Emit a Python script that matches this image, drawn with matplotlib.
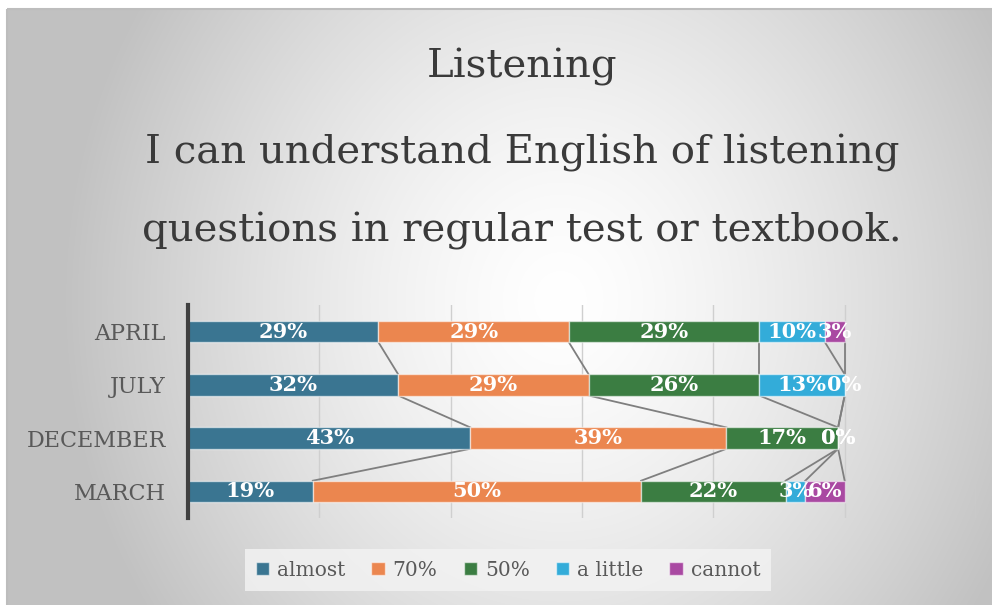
import numpy as np
import matplotlib.pyplot as plt
from matplotlib.patches import Rectangle

months = ['APRIL', 'JULY', 'DECEMBER', 'MARCH']
series = ['almost', '70%', '50%', 'a little', 'cannot']
almost = [29, 32, 43, 19]
seventy = [29, 29, 39, 50]
fifty = [29, 26, 17, 22]
a_little = [10, 13, 0, 3]
cannot = [3, 0, 0, 6]
colors = ['#3a7591', '#eb864f', '#3b7d42', '#33acd9', '#a949a2']

plt.rcParams['font.family'] = ['DejaVu Serif']

fig = plt.figure(figsize=(9.92, 6.05), dpi=100)

# radial grey background
bg = fig.add_axes([0, 0, 1, 1], zorder=-10)
h, w = 605, 992
yy, xx = np.mgrid[0:h, 0:w]
r = np.sqrt(((xx - 560) / 500.0) ** 2 + ((yy - 300) / 560.0) ** 2)
shade = 255 - 62 * np.clip(r, 0, 1) ** 1.4
img = np.dstack([shade, shade, shade]) / 255.0
img[:9, :] = 1.0
img[:, :7] = 1.0
bg.imshow(img, aspect='auto', extent=[0, w, h, 0])
bg.add_patch(Rectangle((7, 9), w, h, fill=False, edgecolor='#bdbdbd', lw=1.5))
bg.set_xlim(0, w)
bg.set_ylim(h, 0)
bg.axis('off')

ax = fig.add_axes([188 / 992, 1 - 518 / 605, (976 - 188) / 992, (518 - 305) / 605])
ax.set_facecolor('none')

data = np.array([almost, seventy, fifty, a_little, cannot], dtype=float)
ypos = np.arange(len(months))
bar_h = 0.4
left = np.zeros(len(months))
for i, name in enumerate(series):
    vals = data[i]
    ax.barh(ypos, vals, left=left, height=bar_h, color=colors[i],
            edgecolor=(1, 1, 1, 0.55), linewidth=1, label=name, zorder=3)
    for k in range(len(months)):
        ax.text(left[k] + vals[k] / 2, ypos[k], '%d%%' % vals[k], ha='center', va='center',
                color='white', fontsize=15, fontweight='bold', zorder=5)
    right = left + vals
    # series lines between neighbouring bars
    for k in range(len(months) - 1):
        ax.plot([right[k], right[k + 1]], [ypos[k] + bar_h / 2, ypos[k + 1] - bar_h / 2],
                color='#7f7f7f', lw=1.3, zorder=2)
    left = right

ax.set_xlim(0, 120)
ax.set_ylim(3.5, -0.5)
ax.set_xticks(np.arange(0, 121, 20))
ax.set_xticklabels([])
ax.grid(axis='x', color='#cfcfcf', lw=1, zorder=0)
ax.set_axisbelow(True)
ax.set_yticks(ypos)
ax.set_yticklabels(months, fontsize=16, color='#595959')
ax.tick_params(length=0, pad=16)
for s in ['top', 'right', 'bottom']:
    ax.spines[s].set_visible(False)
ax.spines['left'].set_color('#404040')
ax.spines['left'].set_linewidth(3)
ax.spines['left'].set_zorder(6)

title_lines = ['Listening', 'I can understand English of listening',
               'questions in regular test or textbook.']
for line, yb in zip(title_lines, [78, 164, 242]):
    fig.text(522 / 992, 1 - yb / 605, line, ha='center', va='baseline',
             fontsize=29, color='#3a3a3a')

leg = ax.legend(loc='center', bbox_to_anchor=(508 / 992, 1 - 570 / 605),
                bbox_transform=fig.transFigure, ncol=5, frameon=True,
                fontsize=14.5, handlelength=0.65, handleheight=0.65,
                handletextpad=0.4, columnspacing=1.3, borderpad=0.55,
                labelcolor='#595959')
leg.get_frame().set_facecolor('#f2f2f2')
leg.get_frame().set_edgecolor('none')
leg.get_frame().set_alpha(0.85)
leg.get_frame().set_boxstyle('square', pad=0)

fig.savefig('out.png', dpi=100)
